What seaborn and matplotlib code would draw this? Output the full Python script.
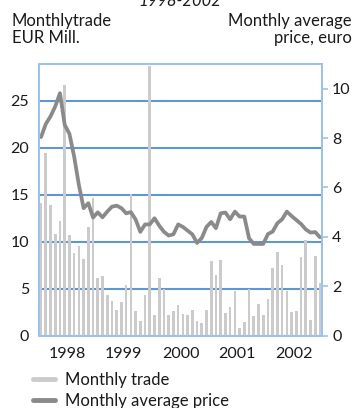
import numpy as np
import pandas as pd
import matplotlib
matplotlib.use("Agg")
import matplotlib.pyplot as plt
from matplotlib.lines import Line2D
import seaborn as sns

# Monthly data, Jan 1998 - Dec 2002
years = ["1998", "1999", "2000", "2001", "2002"]
trade_eur_mill = [
    14.1, 19.4, 13.9, 10.8, 12.2, 26.7, 10.7, 8.8, 9.5, 8.1, 11.5, 14.6,
    6.1, 6.3, 4.3, 3.7, 2.7, 3.6, 5.4, 15.1, 2.6, 1.5, 4.3, 28.7,
    2.2, 6.1, 5.0, 2.2, 2.6, 3.2, 2.3, 2.2, 2.7, 1.5, 1.3, 2.7,
    7.9, 6.4, 8.0, 2.4, 3.0, 4.75, 0.85, 1.4, 4.9, 2.1, 3.3, 2.2,
    3.9, 7.2, 8.9, 7.5, 4.75, 2.5, 2.6, 8.4, 10.2, 1.6, 8.5, 5.6,
]
avg_price_euro = [
    8.04, 8.57, 8.88, 9.28, 9.82, 8.54, 8.17, 7.25, 6.10, 5.16, 5.36, 4.78,
    4.99, 4.79, 5.02, 5.22, 5.26, 5.16, 4.95, 5.00, 4.70, 4.20, 4.50, 4.50,
    4.75, 4.45, 4.20, 4.05, 4.10, 4.50, 4.40, 4.25, 4.10, 3.75, 3.95, 4.40,
    4.60, 4.35, 4.95, 4.98, 4.71, 5.02, 4.82, 4.82, 3.94, 3.71, 3.71, 3.71,
    4.11, 4.21, 4.55, 4.71, 5.02, 4.84, 4.68, 4.52, 4.30, 4.17, 4.19, 3.98,
]
left_ticks = [0, 5, 10, 15, 20, 25]
right_ticks = [0, 2, 4, 6, 8, 10]

df = pd.DataFrame({
    "month": np.arange(len(trade_eur_mill)),
    "trade": trade_eur_mill,
    "price": avg_price_euro,
})

sns.set_theme(style="white")
plt.rcParams["font.family"] = ["Lato", "DejaVu Sans"]

GRID = "#5f97d6"
SPINE = "#9cc2ea"
BAR = "#cbcbcb"
LINE = "#8a8a8a"
TXT = "#1a1a1a"

fig = plt.figure(figsize=(3.55, 4.08), dpi=100)
ax = fig.add_axes([38.7 / 355, 1 - 335.5 / 408, (322.3 - 38.7) / 355, (335.5 - 64) / 408])

sns.barplot(data=df, x="month", y="trade", color=BAR, width=0.55,
            saturation=1, linewidth=0, ax=ax, zorder=2)
ax.set_ylim(0, 28.9)
ax.set_xlim(-0.5, len(df) - 0.5)
ax.set_yticks(left_ticks)
ax.set_yticklabels([str(t) for t in left_ticks])
ax.yaxis.grid(True, color=GRID, linewidth=1.5)
ax.set_axisbelow(True)
ax.set_xlabel("")
ax.set_ylabel("")

# Year boundaries as ticks, year names centred between them
ax.set_xticks([11.5, 23.5, 35.5, 47.5])
ax.set_xticklabels([])
ax.set_xticks([5.5, 17.5, 29.5, 41.5, 53.5], minor=True)
ax.set_xticklabels(years, minor=True)
ax.tick_params(axis="x", which="major", length=5, width=1.2, color=SPINE, direction="out")
ax.tick_params(axis="x", which="minor", length=0, pad=8, labelsize=11.5, labelcolor=TXT)
ax.tick_params(axis="y", length=0, pad=7, labelsize=11.5, labelcolor=TXT)

ax2 = ax.twinx()
sns.lineplot(data=df, x="month", y="price", color=LINE, linewidth=2.7, ax=ax2)
ax2.set_ylim(0, 11)
ax2.set_yticks(right_ticks)
ax2.set_yticklabels([str(t) for t in right_ticks])
ax2.set_ylabel("")
ax2.tick_params(axis="y", length=4, width=1.2, color=SPINE, direction="out",
                pad=3, labelsize=11.5, labelcolor=TXT)
ax2.grid(False)

for a in (ax, ax2):
    for s in a.spines.values():
        s.set_color(SPINE)
        s.set_linewidth(1.3)

fig.text(180 / 355, 1 - 5.5 / 408, "1998-2002", ha="center", va="baseline",
         fontsize=12, style="italic", color=TXT)
fig.text(12 / 355, 1 - 13 / 408, "Monthlytrade\nEUR Mill.", ha="left", va="top",
         fontsize=12, color=TXT, linespacing=1.05)
fig.text(352 / 355, 1 - 13 / 408, "Monthly average\nprice, euro", ha="right", va="top",
         fontsize=12, color=TXT, linespacing=1.05, multialignment="right")

handles = [Line2D([], [], color=BAR, linewidth=3.5),
           Line2D([], [], color=LINE, linewidth=3.5)]
fig.legend(handles, ["Monthly trade", "Monthly average price"],
           loc="upper left", bbox_to_anchor=(33 / 355, 1 - 372 / 408),
           frameon=False, fontsize=12, handlelength=1.3, handletextpad=0.6,
           labelspacing=0.3, borderaxespad=0, borderpad=0, labelcolor=TXT)

fig.savefig("out.png", dpi=100)
